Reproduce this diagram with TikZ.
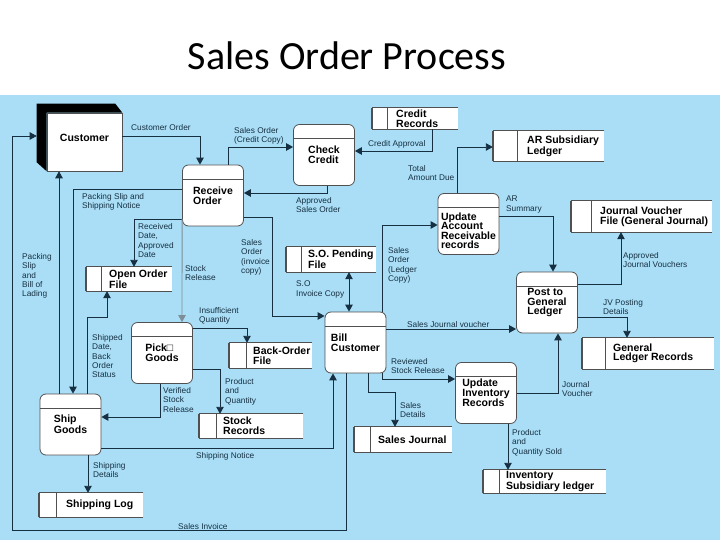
\documentclass[tikz,border=0pt]{standalone}
\usepackage{fontspec}
\setmainfont{Liberation Sans}
\newfontfamily\titlefont{Carlito}
\usetikzlibrary{arrows.meta}
\definecolor{bg}{RGB}{170,222,246}
\definecolor{ln}{RGB}{22,48,66}
\definecolor{bx}{RGB}{80,80,80}

\begin{document}
\begin{tikzpicture}[x=1pt,y=-1pt,>={Triangle[length=7pt,width=7.5pt]},
  proc/.style={draw=bx,fill=white,line width=0.8pt,rounded corners=6pt,
    minimum width=61pt,minimum height=61pt,inner sep=0pt,align=left,
    font=\fontsize{10.5}{9.6}\selectfont\bfseries,
    path picture={\draw[bx,line width=0.8pt]
      ([yshift=-14pt]path picture bounding box.north west) --
      ([yshift=-14pt]path picture bounding box.north east);}},
  ext/.style={draw=bx,fill=white,line width=0.6pt,minimum width=75pt,
    minimum height=58pt,font=\fontsize{10.5}{12}\selectfont\bfseries},
  store/.style={fill=white,inner sep=0pt},
  storetext/.style={anchor=west,inner sep=0pt,align=left,
    font=\fontsize{10.5}{9.6}\selectfont\bfseries},
  lbl/.style={anchor=north west,inner sep=0pt,align=left,text=ln,
    font=\fontsize{8.3}{9.4}\selectfont},
  flowline/.style={->,draw=ln,line width=0.9pt}]

%%% Slide
\useasboundingbox (0,0) rectangle (720,540);
\fill[white] (0,0) rectangle (720,95);
\fill[bg] (0,95) rectangle (720,540);
\node[anchor=base,font=\titlefont\fontsize{40}{48}\selectfont] (title) at (347,70) {Sales Order Process};

%%% External entity
\node[ext,text depth=8pt] (cust) at (84.5,142) {Customer};
\fill[black] ([shift={(-10pt,9pt)}]cust.north west) -- ([shift={(-7pt,9pt)}]cust.north east)
  -- (cust.north east) -- (cust.north west) -- (cust.south west)
  -- ([shift={(-10pt,9pt)}]cust.south west) -- cycle;

%%% Processes
\node[proc] (recv) at (213,195.5) {Receive\\Order};
\node[proc] (chk) at (324,155) {Check\\Credit};
\node[proc,text height=50pt] (updar) at (468.5,224) {Update\\Account\\Receivable\\records};
\node[proc] (post) at (547,302.5) {Post to\\General\\Ledger};
\node[proc] (pick) at (162,353) {Pick□\\Goods};
\node[proc] (bill) at (355.5,342.5) {Bill\\Customer};
\node[proc] (updinv) at (486,393) {Update\\Inventory\\Records};
\node[proc] (ship) at (70.5,424.5) {Ship\\Goods};

%%% Data stores
\node[store,minimum width=86pt,minimum height=21pt] (credrec) at (415,118.5) {};
\node[store,minimum width=111pt,minimum height=30pt] (arsub) at (548.5,146) {};
\node[store,minimum width=141pt,minimum height=31pt] (jvf) at (641.5,216.5) {};
\node[store,minimum width=132pt,minimum height=31pt] (glr) at (648,353.5) {};
\node[store,minimum width=90pt,minimum height=25pt] (sopend) at (331,259.5) {};
\node[store,minimum width=86pt,minimum height=24pt] (openord) at (129,279) {};
\node[store,minimum width=83pt,minimum height=25pt] (backord) at (270.5,355.5) {};
\node[store,minimum width=104pt,minimum height=24pt] (stock) at (251,426) {};
\node[store,minimum width=98pt,minimum height=25pt] (saljrn) at (403,439.5) {};
\node[store,minimum width=123pt,minimum height=23pt] (invsub) at (544.5,481.5) {};
\node[store,minimum width=104pt,minimum height=24pt] (shiplog) at (91,505) {};

\foreach \n/\d in {credrec/16,arsub/25,jvf/21,glr/24,sopend/16,openord/16,
                   backord/18,stock/18,saljrn/17,invsub/17,shiplog/18} {
  \draw[bx,line width=0.8pt] (\n.north east) -- (\n.north west);
  \draw[bx,line width=0.8pt] (\n.south east) -- (\n.south west);
  \draw[bx,line width=1.4pt] (\n.north west) -- (\n.south west);
  \draw[bx,line width=0.8pt] ([xshift=\d pt]\n.north west) -- ([xshift=\d pt]\n.south west);
}

\node[storetext] (credrec-t) at (396,118.5) {Credit\\Records};
\node[storetext] (arsub-t) at (527,146) {AR Subsidiary\\Ledger};
\node[storetext] (jvf-t) at (600,216.5) {Journal Voucher\\File (General Journal)};
\node[storetext] (glr-t) at (613,353.5) {General\\Ledger Records};
\node[storetext] (sopend-t) at (308,259.5) {S.O. Pending\\File};
\node[storetext] (openord-t) at (109,279) {Open Order\\File};
\node[storetext] (backord-t) at (253,355.5) {Back-Order\\File};
\node[storetext] (stock-t) at (223,426) {Stock\\Records};
\node[storetext] (saljrn-t) at (378,439.5) {Sales Journal};
\node[storetext] (invsub-t) at (506,481.5) {Inventory\\Subsidiary ledger};
\node[storetext] (shiplog-t) at (66,505) {Shipping Log};

%%% Data flows
\draw[flowline] ([yshift=6pt]cust.east) -| ([xshift=-13pt]recv.north);
\draw[flowline] ([xshift=15pt]recv.north) |- ([yshift=8pt]chk.west);
\draw[flowline] ([xshift=17pt]credrec.south) |- ([yshift=4pt]chk.east);
\draw[flowline] ([xshift=3pt]chk.south) |- ([yshift=2.5pt]recv.east);
\draw[flowline] ([yshift=-21.5pt]recv.east) -- ++(29,0) |- ([yshift=26.5pt]bill.west);
\draw[flowline] ([xshift=26.5pt]bill.north) |- ([yshift=-1pt]updar.west);
\draw[flowline,<->] ([xshift=-6.5pt]bill.north |- sopend.south) -- ([xshift=-6.5pt]bill.north);
\draw[flowline] ([yshift=6.5pt]recv.west) -| ([xshift=2.5pt]ship.north);
\draw[flowline] ([yshift=-23.5pt]recv.west) -| ([xshift=5pt]openord.north);
\draw[flowline,draw=ln!55] ([yshift=-23.5pt]recv.west) -- ([xshift=20pt]pick.north);
\draw[flowline] ([yshift=25pt]pick.east) -| ([xshift=-23.5pt]backord.north);
\draw[flowline] ([yshift=-16pt]pick.east) -| ([xshift=-31pt]stock.north);
\draw[flowline] ([xshift=-2pt]pick.south) |- ([yshift=7.5pt]ship.east);
\draw[flowline] ([xshift=16.5pt]ship.north) -- ++(0,-76) -| ([xshift=-22pt]openord.south);
\draw[flowline] ([xshift=-11.5pt]ship.north) -- ([xshift=-25.5pt]cust.south);
\draw[flowline] ([yshift=-23.5pt]ship.east) -| ([xshift=-22.5pt]bill.south);
\draw[flowline] ([xshift=17.5pt]ship.south) -- ([xshift=-3pt]shiplog.north);
\draw[flowline] ([xshift=-9.5pt]bill.south) |- (12,530) |- ([xshift=-10pt,yshift=6pt]cust.west);
\draw[flowline] ([yshift=13.5pt]bill.east) -- ([yshift=-26.5pt]post.west);
\draw[flowline] ([xshift=26.5pt]bill.south) |- ([yshift=14pt]updinv.west);
\draw[flowline] ([xshift=12.5pt]bill.south) -- ++(0,19) -| ([xshift=-8pt]saljrn.north);
\draw[flowline] ([xshift=-11.5pt]updar.north) |- ([yshift=-1pt]arsub.west);
\draw[flowline] ([yshift=8pt]updar.east) -| ([xshift=6pt]post.north);
\draw[flowline] ([yshift=18.5pt]post.east) -| ([xshift=-20.5pt]jvf.south);
\draw[flowline] ([yshift=-14.5pt]post.east) -| ([xshift=-21pt]glr.north);
\draw[flowline] (updinv.east) -| ([xshift=11pt]post.south);
\draw[flowline] ([xshift=22pt]updinv.south) -- ([xshift=-36.5pt]invsub.north);

%%% Flow labels
\node[lbl] (l-custord) at (131,124) {Customer Order};
\node[lbl] (l-credcopy) at (234,127) {Sales Order\\(Credit Copy)};
\node[lbl] (l-credappr) at (368,140) {Credit Approval};
\node[lbl] (l-apprso) at (296,197) {Approved\\Sales Order};
\node[lbl] (l-invcopy) at (241,239) {Sales\\Order\\(invoice\\copy)};
\node[lbl] (l-soinv) at (296,281) {S.O\\Invoice Copy};
\node[lbl] (l-ledcopy) at (388,247) {Sales\\Order\\(Ledger\\Copy)};
\node[lbl] (l-total) at (408,165) {Total\\Amount Due};
\node[lbl] (l-arsum) at (506,196) {AR\\Summary};
\node[lbl] (l-apprjv) at (623,252) {Approved\\Journal Vouchers};
\node[lbl] (l-jvpost) at (603,299) {JV Posting\\Details};
\node[lbl] (l-sjv) at (407,321) {Sales Journal voucher};
\node[lbl] (l-revstock) at (391,358) {Reviewed\\Stock Release};
\node[lbl] (l-saldet) at (400,402) {Sales\\Details};
\node[lbl] (l-jv) at (562,381) {Journal\\Voucher};
\node[lbl] (l-qtysold) at (512,429) {Product\\and\\Quantity Sold};
\node[lbl] (l-packship) at (82,193) {Packing Slip and\\Shipping Notice};
\node[lbl] (l-recdate) at (138,223) {Received\\Date,\\Approved\\Date};
\node[lbl] (l-stockrel) at (185,265) {Stock\\Release};
\node[lbl] (l-lading) at (22,253) {Packing\\Slip\\and\\Bill of\\Lading};
\node[lbl] (l-shipdate) at (92,334) {Shipped\\Date,\\Back\\Order\\Status};
\node[lbl] (l-insuff) at (199,307) {Insufficient\\Quantity};
\node[lbl] (l-verified) at (163,387) {Verified\\Stock\\Release};
\node[lbl] (l-prodqty) at (225,378) {Product\\and\\Quantity};
\node[lbl] (l-shipnote) at (196,452) {Shipping Notice};
\node[lbl] (l-shipdet) at (93,462) {Shipping\\Details};
\node[lbl] (l-salinv) at (178,523) {Sales Invoice};
\end{tikzpicture}
\end{document}
